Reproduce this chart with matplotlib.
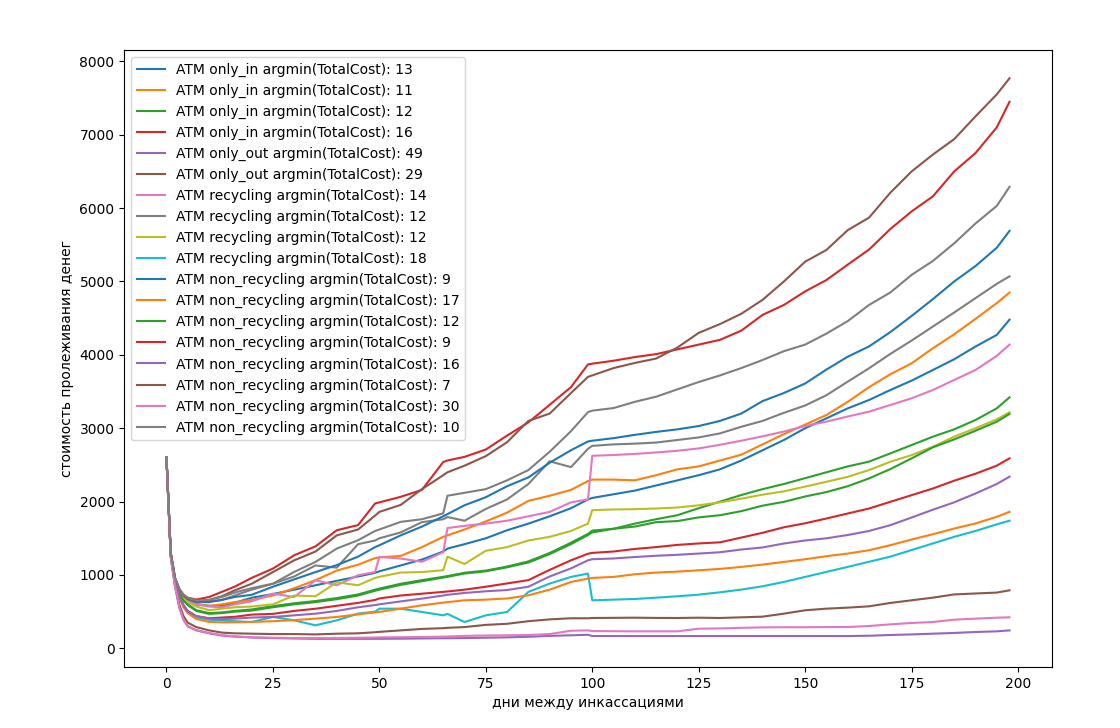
import matplotlib
matplotlib.use("Agg")
import matplotlib.pyplot as plt

# дни между инкассациями (точки)
days = [0, 1, 2, 3, 4, 5, 7, 10, 13, 16,
        20, 25, 30, 35, 40, 45, 49, 50, 55, 60,
        65, 66, 70, 75, 80, 85, 90, 95, 99, 100,
        105, 110, 115, 120, 125, 130, 135, 140, 145, 150,
        155, 160, 165, 170, 175, 180, 185, 190, 195, 198]

only_in_13 = [2600, 1290, 940, 790, 700, 650, 600, 580, 575, 620,
              690, 740, 800, 860, 920, 980, 1030, 1050, 1130, 1210,
              1320, 1360, 1420, 1500, 1610, 1700, 1800, 1910, 2030, 2050,
              2100, 2150, 2220, 2290, 2360, 2440, 2560, 2700, 2840, 3000,
              3135, 3271, 3385, 3521, 3649, 3794, 3940, 4113, 4272, 4480]
only_in_11 = [2600, 1290, 940, 790, 700, 650, 600, 580, 600, 630,
              660, 720, 820, 930, 1060, 1140, 1230, 1240, 1260, 1380,
              1520, 1540, 1620, 1730, 1850, 2010, 2080, 2160, 2280, 2300,
              2300, 2290, 2360, 2440, 2480, 2560, 2640, 2780, 2920, 3050,
              3180, 3360, 3560, 3735, 3885, 4090, 4280, 4490, 4705, 4850]
only_in_12 = [2600, 1280, 920, 760, 660, 600, 520, 480, 490, 510,
              530, 575, 615, 645, 685, 735, 800, 815, 880, 930,
              975, 985, 1030, 1060, 1115, 1185, 1300, 1440, 1560, 1605,
              1630, 1700, 1760, 1815, 1910, 2000, 2090, 2170, 2240, 2320,
              2400, 2480, 2545, 2657, 2771, 2885, 2985, 3112, 3271, 3421]
only_in_16 = [2600, 1270, 900, 720, 590, 510, 440, 410, 420, 430,
              460, 470, 510, 540, 580, 620, 660, 680, 720, 745,
              770, 775, 800, 840, 885, 930, 1070, 1200, 1290, 1301,
              1320, 1355, 1380, 1410, 1430, 1445, 1510, 1575, 1650, 1705,
              1770, 1838, 1906, 1997, 2088, 2179, 2285, 2380, 2490, 2590]
only_out_49 = [2600, 1250, 850, 560, 390, 300, 245, 205, 175, 160,
               148, 140, 135, 130, 130, 130, 130, 130, 132, 135,
               138, 138, 140, 145, 150, 158, 170, 178, 185, 168,
               168, 168, 168, 168, 168, 168, 168, 168, 168, 168,
               168, 168, 172, 182, 190, 200, 210, 223, 232, 245]
only_out_29 = [2600, 1250, 860, 600, 440, 350, 290, 245, 215, 205,
               200, 195, 195, 190, 200, 205, 220, 225, 245, 265,
               275, 280, 290, 320, 335, 370, 395, 410, 410, 414,
               416, 418, 415, 414, 418, 414, 423, 432, 473, 519,
               541, 555, 573, 619, 655, 691, 735, 748, 760, 791]
recycling_14 = [2600, 1290, 940, 790, 700, 650, 600, 570, 560, 600,
                640, 746, 700, 928, 860, 996, 1042, 1246, 1224, 1180,
                1310, 1640, 1670, 1700, 1740, 1800, 1860, 1990, 2030, 2625,
                2635, 2650, 2670, 2693, 2725, 2775, 2830, 2890, 2955, 3030,
                3090, 3160, 3226, 3317, 3408, 3521, 3658, 3794, 3986, 4140]
recycling_12a = [2600, 1300, 960, 800, 720, 680, 640, 640, 660, 720,
                 800, 880, 980, 1130, 1100, 1420, 1470, 1500, 1580, 1720,
                 1760, 1790, 1740, 1900, 2030, 2240, 2550, 2470, 2720, 2760,
                 2780, 2790, 2805, 2840, 2875, 2930, 3020, 3100, 3210, 3310,
                 3450, 3635, 3817, 4013, 4195, 4386, 4577, 4773, 4968, 5070]
recycling_12b = [2600, 1290, 930, 780, 690, 630, 570, 520, 540, 560,
                 570, 600, 720, 710, 900, 860, 960, 975, 1033, 1040,
                 1065, 1250, 1150, 1330, 1380, 1470, 1520, 1600, 1700, 1884,
                 1893, 1897, 1906, 1920, 1950, 1990, 2040, 2095, 2140, 2205,
                 2270, 2338, 2430, 2543, 2634, 2748, 2885, 3000, 3121, 3217]
recycling_18 = [2600, 1270, 890, 700, 570, 490, 420, 390, 383, 370,
                359, 428, 382, 314, 382, 473, 500, 541, 541, 496,
                450, 470, 359, 450, 496, 769, 883, 974, 1019, 655,
                664, 673, 691, 710, 732, 764, 801, 846, 905, 974,
                1042, 1110, 1180, 1250, 1340, 1430, 1520, 1600, 1690, 1740]
non_recycling_9a = [2600, 1290, 950, 800, 720, 670, 630, 630, 660, 700,
                    730, 840, 940, 1040, 1135, 1250, 1380, 1405, 1540, 1660,
                    1800, 1830, 1950, 2060, 2210, 2330, 2530, 2700, 2820, 2830,
                    2865, 2910, 2950, 2985, 3030, 3100, 3200, 3370, 3480, 3610,
                    3800, 3975, 4115, 4310, 4530, 4760, 5000, 5210, 5460, 5690]
non_recycling_17 = [2600, 1270, 890, 700, 560, 480, 400, 360, 355, 355,
                    360, 370, 385, 405, 428, 464, 490, 496, 541, 587,
                    623, 630, 655, 664, 680, 723, 800, 905, 951, 960,
                    974, 1010, 1033, 1046, 1064, 1083, 1110, 1142, 1178, 1215,
                    1256, 1292, 1337, 1406, 1483, 1556, 1633, 1702, 1793, 1861]
non_recycling_12 = [2600, 1280, 920, 750, 650, 590, 510, 470, 480, 500,
                    515, 560, 600, 630, 670, 720, 785, 800, 865, 915,
                    965, 975, 1020, 1050, 1105, 1170, 1285, 1420, 1545, 1580,
                    1630, 1660, 1720, 1735, 1785, 1815, 1870, 1945, 1997, 2070,
                    2130, 2210, 2316, 2443, 2589, 2740, 2848, 2966, 3089, 3195]
non_recycling_9b = [2600, 1300, 960, 810, 730, 690, 665, 700, 770, 840,
                    960, 1087, 1269, 1390, 1610, 1680, 1975, 1990, 2065, 2160,
                    2540, 2560, 2610, 2710, 2900, 3080, 3320, 3560, 3870, 3880,
                    3920, 3970, 4010, 4075, 4140, 4205, 4330, 4545, 4680, 4865,
                    5020, 5230, 5435, 5715, 5955, 6160, 6500, 6750, 7100, 7450]
non_recycling_16 = [2600, 1270, 900, 710, 580, 500, 440, 405, 400, 405,
                    420, 428, 450, 473, 510, 560, 590, 600, 640, 678,
                    720, 730, 755, 778, 795, 840, 980, 1090, 1200, 1215,
                    1225, 1245, 1262, 1275, 1292, 1310, 1347, 1375, 1429, 1470,
                    1500, 1545, 1600, 1679, 1783, 1890, 1990, 2110, 2240, 2340]
non_recycling_7 = [2600, 1300, 960, 810, 720, 680, 640, 660, 710, 790,
                   880, 1040, 1200, 1320, 1540, 1620, 1810, 1860, 1955, 2170,
                   2360, 2400, 2490, 2620, 2810, 3100, 3200, 3480, 3700, 3720,
                   3820, 3890, 3950, 4100, 4300, 4420, 4560, 4750, 5000, 5270,
                   5430, 5700, 5870, 6210, 6500, 6730, 6940, 7250, 7550, 7770]
non_recycling_30 = [2600, 1250, 850, 560, 390, 300, 250, 210, 180, 165,
                    150, 145, 140, 140, 142, 145, 148, 150, 152, 155,
                    160, 162, 170, 175, 178, 182, 195, 240, 245, 236,
                    234, 232, 232, 232, 268, 272, 280, 286, 288, 288,
                    290, 291, 305, 327, 346, 359, 391, 405, 418, 423]
non_recycling_10 = [2600, 1300, 960, 810, 730, 690, 650, 660, 700, 760,
                    820, 882, 1042, 1178, 1360, 1474, 1600, 1620, 1724, 1760,
                    1840, 2080, 2120, 2170, 2290, 2430, 2680, 2960, 3220, 3240,
                    3275, 3360, 3430, 3530, 3630, 3720, 3820, 3930, 4050, 4140,
                    4290, 4460, 4680, 4850, 5090, 5280, 5520, 5790, 6030, 6290]

labels = [
    'ATM only_in argmin(TotalCost): 13',
    'ATM only_in argmin(TotalCost): 11',
    'ATM only_in argmin(TotalCost): 12',
    'ATM only_in argmin(TotalCost): 16',
    'ATM only_out argmin(TotalCost): 49',
    'ATM only_out argmin(TotalCost): 29',
    'ATM recycling argmin(TotalCost): 14',
    'ATM recycling argmin(TotalCost): 12',
    'ATM recycling argmin(TotalCost): 12',
    'ATM recycling argmin(TotalCost): 18',
    'ATM non_recycling argmin(TotalCost): 9',
    'ATM non_recycling argmin(TotalCost): 17',
    'ATM non_recycling argmin(TotalCost): 12',
    'ATM non_recycling argmin(TotalCost): 9',
    'ATM non_recycling argmin(TotalCost): 16',
    'ATM non_recycling argmin(TotalCost): 7',
    'ATM non_recycling argmin(TotalCost): 30',
    'ATM non_recycling argmin(TotalCost): 10',
]

series = [only_in_13, only_in_11, only_in_12, only_in_16,
          only_out_49, only_out_29,
          recycling_14, recycling_12a, recycling_12b, recycling_18,
          non_recycling_9a, non_recycling_17, non_recycling_12, non_recycling_9b,
          non_recycling_16, non_recycling_7, non_recycling_30, non_recycling_10]

fig = plt.figure(figsize=(11.2, 7.28), dpi=100)
plt.subplots_adjust(left=0.111, right=0.939, bottom=0.084, top=0.931)

for costs, label in zip(series, labels):
    plt.plot(days, costs, label=label)

plt.xlabel('дни между инкассациями')
plt.ylabel('стоимость пролеживания денег')
plt.legend(loc='upper left')

plt.savefig('out.png', dpi=100)
